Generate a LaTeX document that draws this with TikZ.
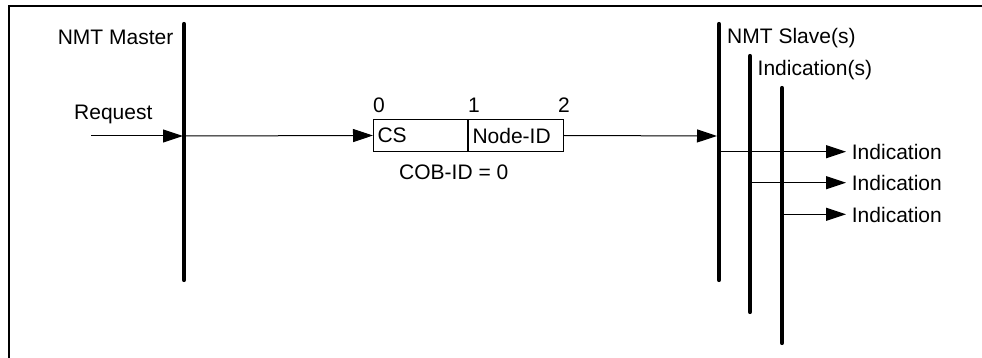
\documentclass[tikz,border=0pt]{standalone}
\usepackage{fontspec}
\setmainfont{Liberation Sans}
\usetikzlibrary{arrows.meta}
\begin{document}
\begin{tikzpicture}[x=1pt,y=-1pt,
  lbl/.style={inner sep=0pt,font=\fontsize{21}{24}\selectfont},
  bar/.style={line width=4.2pt,line cap=round},
  conn/.style={line width=1pt,-{Triangle[length=20pt,width=13pt]}},
  field/.style={draw,line width=1pt,minimum height=32pt,inner xsep=4pt,inner ysep=0pt,
    align=left,font=\fontsize{21}{24}\selectfont,anchor=west}]
\useasboundingbox (0,0) rectangle (982,358);
% frame (top and left edges)
\draw[line width=2pt] (9,358) -- (9,6) -- (982,6);
% lifelines
\coordinate (mT) at (184,24);  \coordinate (mB) at (184,280);
\coordinate (sT) at (719,24);  \coordinate (sB) at (719,280);
\coordinate (iT) at (750,56);  \coordinate (iB) at (750,312);
\coordinate (jT) at (782,88);  \coordinate (jB) at (782,343);
\draw[bar] (mT) -- (mB);
\draw[bar] (sT) -- (sB);
\draw[bar] (iT) -- (iB);
\draw[bar] (jT) -- (jB);
% labels of lifelines
\node[lbl,anchor=base east] (lmaster) at (173.5,44.3) {NMT Master};
\node[lbl,anchor=base west] (lslave) at (727,43.5) {NMT Slave(s)};
\node[lbl,anchor=base west] (linds) at (757.5,76) {Indication(s)};
% request
\coordinate (rq) at (91,136);
\coordinate (mq) at (183,136);
\node[lbl,anchor=base west] (lreq) at (74,120) {Request};
\draw[conn] (rq) -- (mq);
% message box
\node[field,minimum width=94pt,text width=86pt] (cs) at (373,135.5) {CS};
\node[field,minimum width=95pt,text width=87pt] (nid) at (cs.east) {Node-ID};
\node[lbl,anchor=base west] (d0) at (cs.north west) [yshift=6pt] {0};
\node[lbl,anchor=base west] (d1) at (nid.north west) [yshift=6pt] {1};
\node[lbl,anchor=base] (d2) at (nid.north east) [yshift=6pt] {2};
\node[lbl,anchor=base west] (cob) at (399,180) {COB-ID = 0};
\coordinate (mo) at (184,136);
\draw[conn] (mo) -- (cs.west);
\coordinate (si) at (717,136);
\draw[conn] (nid.east) -- (si);
% indications
\coordinate (a1) at (719,151.7); \coordinate (e1) at (846,151.7);
\coordinate (a2) at (750,182.7); \coordinate (e2) at (846,182.7);
\coordinate (a3) at (782,214.3); \coordinate (e3) at (846,214.3);
\draw[conn] (a1) -- (e1);
\draw[conn] (a2) -- (e2);
\draw[conn] (a3) -- (e3);
\node[lbl,anchor=base west] (ind1) at (851.7,159.3) {Indication};
\node[lbl,anchor=base west] (ind2) at (851.7,190.3) {Indication};
\node[lbl,anchor=base west] (ind3) at (851.7,222.7) {Indication};
\end{tikzpicture}
\end{document}
